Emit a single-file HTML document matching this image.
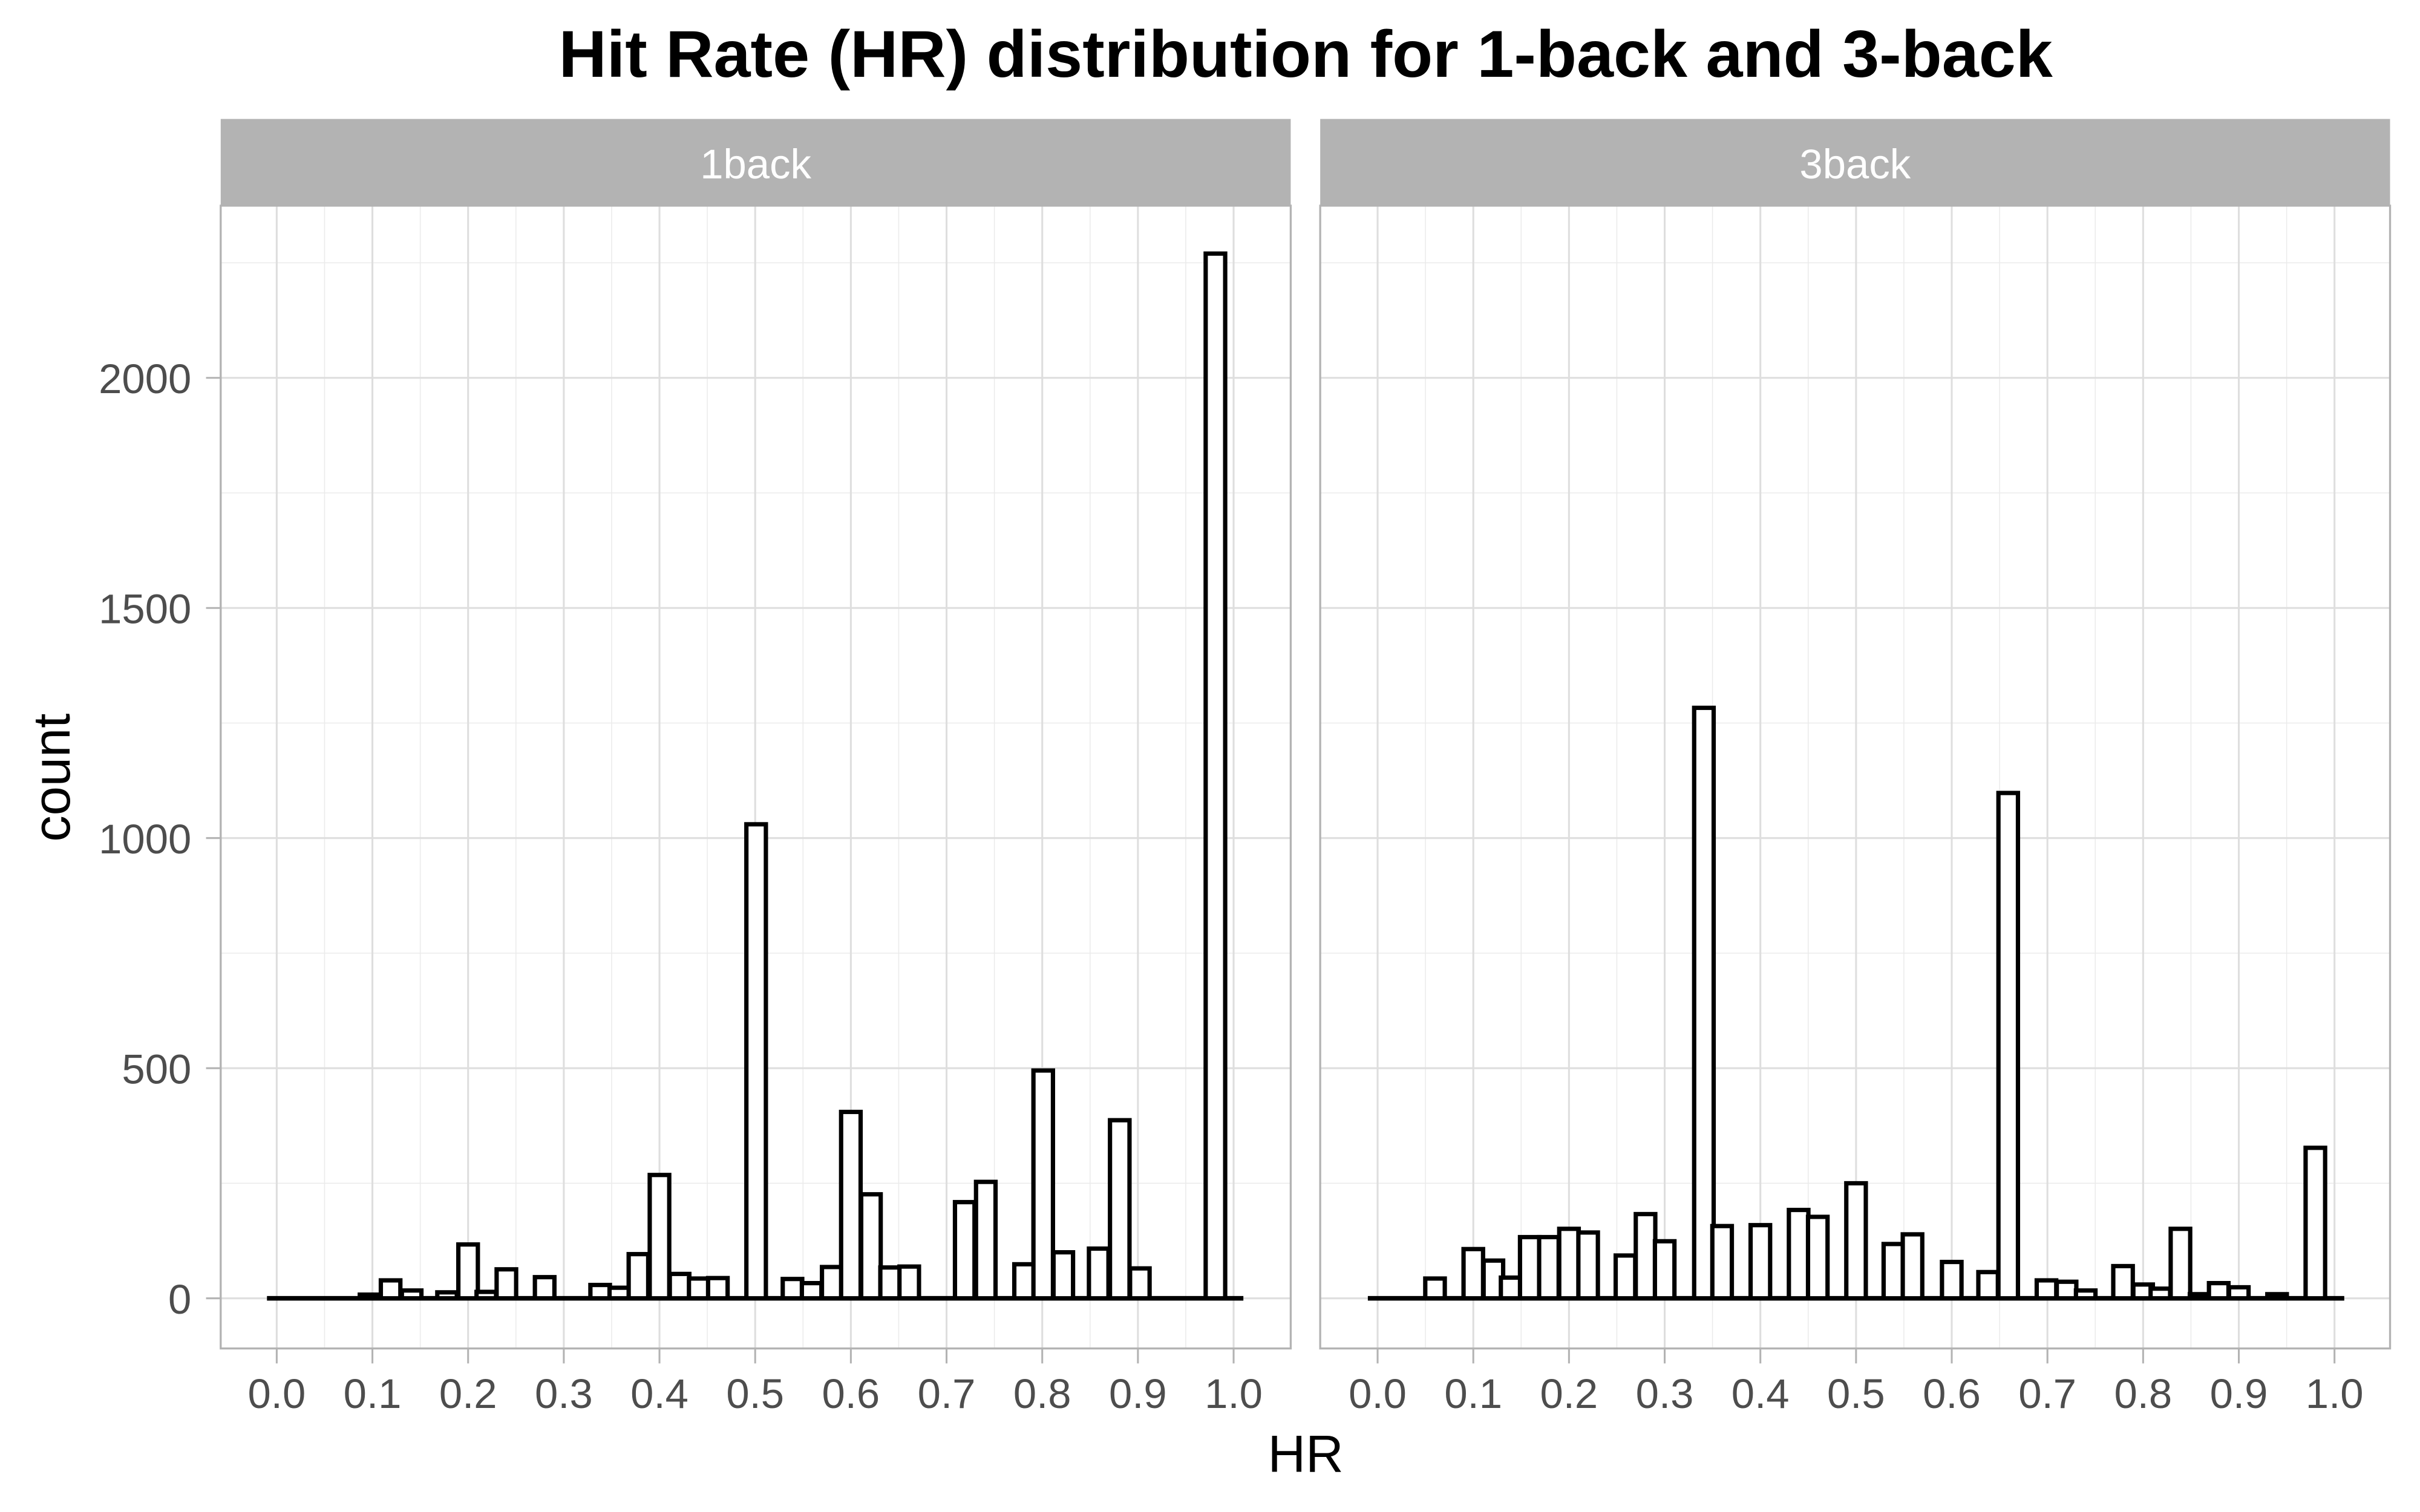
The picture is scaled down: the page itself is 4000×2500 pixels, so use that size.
<!DOCTYPE html>
<html><head><meta charset="utf-8"><style>
html,body{margin:0;padding:0;background:#fff;}
svg{display:block;}
text{font-family:"Liberation Sans",Arial,sans-serif;}
</style></head><body>
<svg id="chart" width="4000" height="2500" viewBox="0 0 1568 980" xmlns="http://www.w3.org/2000/svg">
<rect x="0" y="0" width="1568" height="980" fill="#fff"/>
<text x="846" y="49.7" text-anchor="middle" font-size="43" font-weight="bold" textLength="968" lengthAdjust="spacingAndGlyphs">Hit Rate (HR) distribution for 1-back and 3-back</text>
<text x="846" y="954" text-anchor="middle" font-size="34" fill="#000">HR</text>
<text transform="translate(45,504) rotate(-90)" text-anchor="middle" font-size="34" fill="#000">count</text>
<g id="panels"></g>
</svg>
<script>
// ---- data ----
const panelLabels = ["1back", "3back"];
const yTicks = [0, 500, 1000, 1500, 2000];
const yMinorTicks = [250, 750, 1250, 1750, 2250];
const xTicks = [0.0, 0.1, 0.2, 0.3, 0.4, 0.5, 0.6, 0.7, 0.8, 0.9, 1.0];
const xTickLabels = ["0.0","0.1","0.2","0.3","0.4","0.5","0.6","0.7","0.8","0.9","1.0"];
const xMinorTicks = [0.05, 0.15, 0.25, 0.35, 0.45, 0.55, 0.65, 0.75, 0.85, 0.95];
const binWidth = 0.0204;
const xRange = [-0.0102, 1.0102];
const oneBackCenters = [0.097,0.119,0.141,0.178,0.200,0.219,0.240,0.280,0.338,0.358,0.378,0.400,0.421,0.441,0.461,0.501,0.539,0.559,0.580,0.600,0.621,0.641,0.661,0.719,0.741,0.781,0.801,0.822,0.859,0.881,0.902,0.981];
const oneBackCounts = [8,39,17,13,117,14,63,46,29,23,96,268,53,43,44,1030,42,33,68,405,226,67,69,209,253,74,495,100,108,387,65,2270];
const threeBackCenters = [0.060,0.100,0.121,0.139,0.159,0.179,0.200,0.220,0.259,0.280,0.300,0.341,0.360,0.400,0.440,0.460,0.500,0.539,0.559,0.600,0.638,0.659,0.699,0.720,0.740,0.779,0.800,0.818,0.839,0.859,0.879,0.900,0.940,0.980];
const threeBackCounts = [43,107,82,45,133,133,151,143,93,183,124,1283,157,159,192,177,250,118,139,79,57,1098,39,36,17,70,30,21,151,9,33,24,9,327];

const NS = "http://www.w3.org/2000/svg";
const panelsG = document.getElementById("panels");
const panelBoxes = [{left:143, right:836.3}, {left:855.4, right:1548.6}];
const stripTop = 77.1, plotTop = 133.3, plotBottom = 874;
const xAxes = [{x0:179.3, x1:799.3}, {x0:892.6, x1:1512.6}];
const yScale = v => 841.5 - v * 0.2983;
const seriesCenters = [oneBackCenters, threeBackCenters];
const seriesCounts = [oneBackCounts, threeBackCounts];

function mk(tag, attrs, parent){
  const e = document.createElementNS(NS, tag);
  for (const k in attrs) e.setAttribute(k, attrs[k]);
  parent.appendChild(e);
  return e;
}

panelLabels.forEach((lab, p) => {
  const box = panelBoxes[p];
  const ax = xAxes[p];
  const xScale = v => ax.x0 + v * (ax.x1 - ax.x0);
  const g = mk("g", {}, panelsG);
  
  
  const bg = mk("rect", {x:box.left, y:plotTop, width:box.right-box.left, height:plotBottom-plotTop, fill:"#fff"}, g);
  
  
  yMinorTicks.forEach(v => {
    const l = mk("line", {x1:box.left, x2:box.right, y1:yScale(v), y2:yScale(v), stroke:"#ebebeb", "stroke-width":0.6}, g);
    
    
  });
  xMinorTicks.forEach(v => {
    const l = mk("line", {x1:xScale(v), x2:xScale(v), y1:plotTop, y2:plotBottom, stroke:"#ebebeb", "stroke-width":0.6}, g);
    
    
  });
  yTicks.forEach(v => {
    const l = mk("line", {x1:box.left, x2:box.right, y1:yScale(v), y2:yScale(v), stroke:"#dedede", "stroke-width":1.2}, g);
    
    
  });
  xTicks.forEach(v => {
    const l = mk("line", {x1:xScale(v), x2:xScale(v), y1:plotTop, y2:plotBottom, stroke:"#dedede", "stroke-width":1.2}, g);
    
    
  });
  const base = mk("line", {x1:xScale(xRange[0]), x2:xScale(xRange[1]), y1:yScale(0), y2:yScale(0), stroke:"#000", "stroke-width":3}, g);
  
  
  const cs = seriesCenters[p], ns = seriesCounts[p];
  cs.forEach((c, i) => {
    const xl = xScale(c - binWidth/2), xr = xScale(c + binWidth/2);
    const yt = yScale(ns[i]), yb = yScale(0);
    const r = mk("rect", {x:xl, y:yt, width:xr-xl, height:yb-yt, fill:"#fff", stroke:"#000", "stroke-width":2.8}, g);
    
    
  });
  const bd = mk("rect", {x:box.left, y:plotTop, width:box.right-box.left, height:plotBottom-plotTop, fill:"none", stroke:"#b3b3b3", "stroke-width":1.3}, g);
  
  
  const st = mk("rect", {x:box.left, y:stripTop, width:box.right-box.left, height:plotTop-stripTop, fill:"#b3b3b3"}, g);
  
  
  const stt = mk("text", {x:(box.left+box.right)/2, y:115.6, "text-anchor":"middle", "font-size":27, fill:"#fff"}, g);
  stt.textContent = lab;
  
  
  xTicks.forEach((v, i) => {
    const t = mk("line", {x1:xScale(v), x2:xScale(v), y1:plotBottom, y2:883.7, stroke:"#b3b3b3", "stroke-width":1.2}, g);
    
    
    const tl = mk("text", {x:xScale(v), y:912.5, "text-anchor":"middle", "font-size":27, fill:"#4d4d4d"}, g);
    tl.textContent = xTickLabels[i];
    
    
  });
  if (p === 0) {
    yTicks.forEach(v => {
      const t = mk("line", {x1:133.5, x2:box.left, y1:yScale(v), y2:yScale(v), stroke:"#b3b3b3", "stroke-width":1.2}, g);
      
      
      const tl = mk("text", {x:124, y:yScale(v)+10, "text-anchor":"end", "font-size":27, fill:"#4d4d4d"}, g);
      tl.textContent = String(v);
      
      
    });
  }
});
</script>
</body></html>
